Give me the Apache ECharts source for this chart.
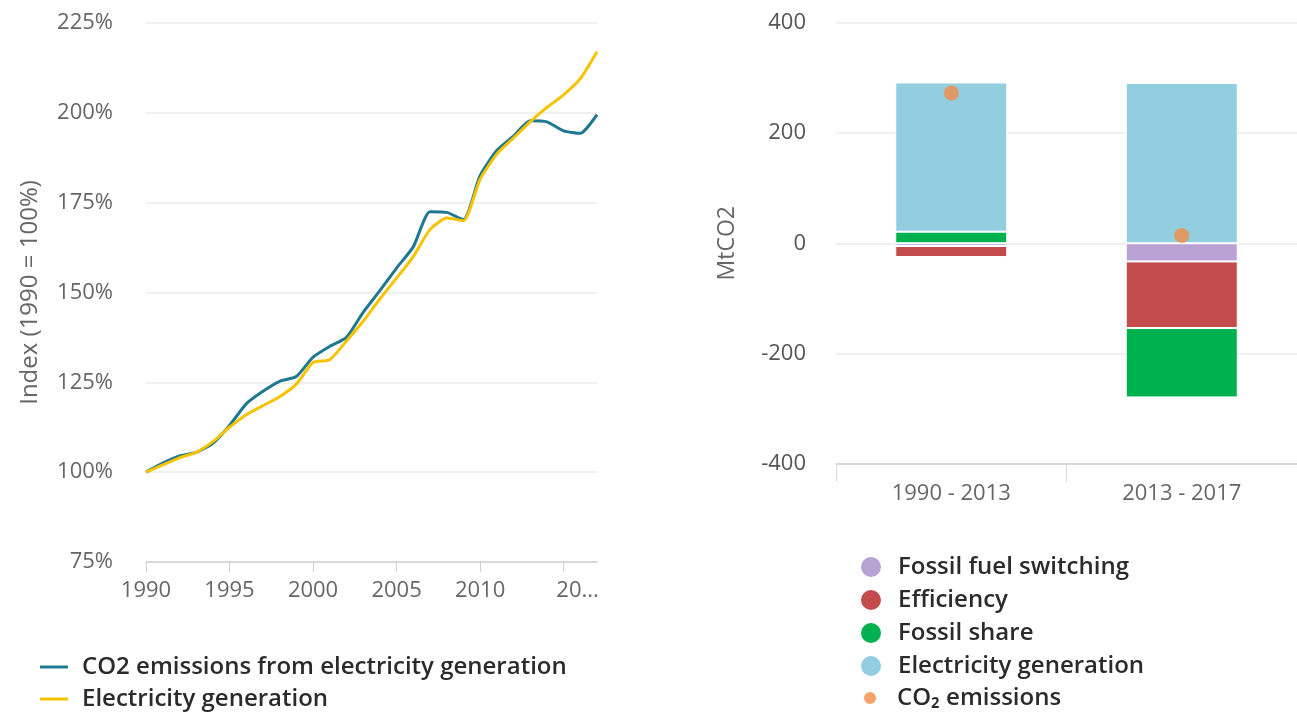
<!DOCTYPE html>
<html>
<head>
<meta charset="utf-8">
<script src="https://cdn.jsdelivr.net/npm/echarts@6/dist/echarts.min.js"></script>
<style>
html,body{margin:0;padding:0;background:#fff;}
#c{width:1297px;height:721px;}
</style>
</head>
<body>
<div id="c"></div>
<script>
// ---- Left chart data ----
const years = ['1990','1991','1992','1993','1994','1995','1996','1997','1998','1999',
  '2000','2001','2002','2003','2004','2005','2006','2007','2008','2009',
  '2010','2011','2012','2013','2014','2015','2016','2017'];
const co2Index = [100, 102.5, 104.5, 105.5, 108, 113, 119, 122.5, 125.3, 126.6,
  132, 135, 137.5, 144.5, 150.5, 156.8, 162.7, 172.5, 172.3, 170.3,
  182.5, 189.5, 193.5, 197.8, 197.5, 195, 194.3, 199.5];
const genIndex = [100, 102, 104, 105.5, 108.5, 112.5, 116, 118.5, 121, 124.5,
  130.5, 131.3, 136.5, 142, 148.2, 154, 160, 167.5, 170.7, 170,
  181.5, 188.5, 193, 197.5, 201.5, 205, 209.5, 217];
const indexMin = 75, indexMax = 225, indexStep = 25;

// ---- Right chart data ----
const periods = ['1990 - 2013', '2013 - 2017'];
const fuelSwitching = [-5, -33];
const efficiency = [-20, -121];
const fossilShare = [21, -126];
const elecGeneration = [271, 291];
const co2Emissions = [273, 14];
const mtMin = -400, mtMax = 400, mtStep = 200;

const FONT = '"Open Sans", "Noto Sans", sans-serif';
const tickColor = '#666';
const legendColor = '#2b2b2b';

const chart = echarts.init(document.getElementById('c'), null, {renderer: 'canvas'});

const barStyle = (color) => ({color: color, borderColor: '#fff', borderWidth: 1});
const legendText = (pad) => ({fontFamily: FONT, fontSize: 24, fontWeight: 600, color: legendColor, lineHeight: 24, padding: [0, 0, 0, pad]});

chart.setOption({
  animation: false,
  backgroundColor: '#fff',
  textStyle: {fontFamily: FONT},
  grid: [
    {left: 146, top: 23, width: 451, height: 539},
    {left: 836, top: 23, width: 465, height: 440.5}
  ],
  legend: [
    {
      orient: 'vertical', left: 40, top: 655, itemGap: 8, padding: 0,
      icon: 'rect', itemWidth: 28, itemHeight: 3,
      textStyle: legendText(9),
      data: ['CO2 emissions from electricity generation', 'Electricity generation ']
    },
    {
      orient: 'vertical', left: 859, top: 555, itemGap: 9, padding: 0,
      icon: 'circle', itemWidth: 22, itemHeight: 22,
      textStyle: legendText(11),
      data: ['Fossil fuel switching', 'Efficiency', 'Fossil share', 'Electricity generation']
    },
    {
      orient: 'vertical', left: 864, top: 686, itemGap: 9, padding: 0,
      icon: 'circle', itemWidth: 12, itemHeight: 12,
      textStyle: legendText(16),
      data: ['CO₂ emissions']
    }
  ],
  xAxis: [
    {
      gridIndex: 0, type: 'category', data: years, boundaryGap: false,
      axisLine: {lineStyle: {color: '#cfcfcf', width: 1.5}},
      axisTick: {show: true, interval: 4, length: 10, lineStyle: {color: '#cfcfcf'}},
      axisLabel: {
        interval: 4, fontSize: 22, color: tickColor, margin: 18, fontFamily: FONT,
        formatter: function (v) { return v === '2015' ? '{e|20...}' : v; },
        rich: {e: {fontSize: 22, color: tickColor, fontFamily: FONT, padding: [0, 0, 0, 28]}}
      },
      splitLine: {show: false}
    },
    {
      gridIndex: 1, type: 'category', data: periods,
      axisLine: {onZero: false, lineStyle: {color: '#cfcfcf', width: 1.5}},
      axisTick: {show: true, length: 18, lineStyle: {color: '#d8d8d8'}},
      axisLabel: {fontSize: 22, color: tickColor, margin: 19, fontFamily: FONT},
      splitLine: {show: false}
    }
  ],
  yAxis: [
    {
      gridIndex: 0, type: 'value', min: indexMin, max: indexMax, interval: indexStep,
      axisLine: {show: false}, axisTick: {show: false},
      axisLabel: {formatter: '{value}%', fontSize: 22, color: tickColor, margin: 33, fontFamily: FONT},
      splitLine: {lineStyle: {color: '#ebebeb', width: 1.5}},
      name: 'Index (1990 = 100%)', nameLocation: 'middle', nameGap: 104,
      nameTextStyle: {fontSize: 24, color: tickColor, fontFamily: FONT}
    },
    {
      gridIndex: 1, type: 'value', min: mtMin, max: mtMax, interval: mtStep,
      axisLine: {show: false}, axisTick: {show: false},
      axisLabel: {fontSize: 22, color: '#555', margin: 30, fontFamily: FONT},
      splitLine: {lineStyle: {color: '#ebebeb', width: 1.5}},
      name: 'MtCO2', nameLocation: 'middle', nameGap: 97,
      nameTextStyle: {fontSize: 23, color: tickColor, fontFamily: FONT}
    }
  ],
  series: [
    {
      name: 'CO2 emissions from electricity generation', type: 'line',
      xAxisIndex: 0, yAxisIndex: 0, data: co2Index, smooth: 0.2,
      showSymbol: false, symbol: 'none',
      lineStyle: {color: '#1f7891', width: 3}, itemStyle: {color: '#1f7891'}, z: 3
    },
    {
      name: 'Electricity generation ', type: 'line',
      xAxisIndex: 0, yAxisIndex: 0, data: genIndex, smooth: 0.2,
      showSymbol: false, symbol: 'none',
      lineStyle: {color: '#f7c300', width: 3}, itemStyle: {color: '#f7c300'}, z: 4
    },
    {
      name: 'Fossil fuel switching', type: 'bar', stack: 'dec',
      xAxisIndex: 1, yAxisIndex: 1, data: fuelSwitching, barWidth: 112,
      itemStyle: barStyle('#b8a2d4')
    },
    {
      name: 'Efficiency', type: 'bar', stack: 'dec',
      xAxisIndex: 1, yAxisIndex: 1, data: efficiency, barWidth: 112,
      itemStyle: barStyle('#c44b4b')
    },
    {
      name: 'Fossil share', type: 'bar', stack: 'dec',
      xAxisIndex: 1, yAxisIndex: 1, data: fossilShare, barWidth: 112,
      itemStyle: barStyle('#00b14f')
    },
    {
      name: 'Electricity generation', type: 'bar', stack: 'dec',
      xAxisIndex: 1, yAxisIndex: 1, data: elecGeneration, barWidth: 112,
      itemStyle: barStyle('#93cde0')
    },
    {
      name: 'CO₂ emissions', type: 'scatter',
      xAxisIndex: 1, yAxisIndex: 1, data: co2Emissions,
      symbol: 'circle', symbolSize: 15, itemStyle: {color: '#f28c45'}, z: 5
    }
  ]
});
</script>
</body>
</html>
